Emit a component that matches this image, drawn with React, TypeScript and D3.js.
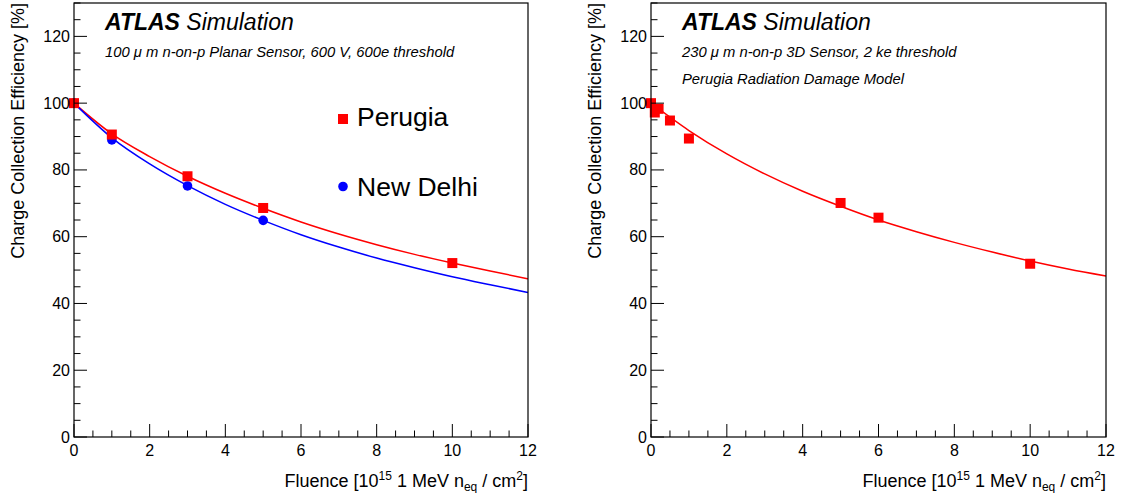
import React from "react";
import * as d3 from "d3";

// ---------- data ----------
const perugiaFluence = [0, 1, 3, 5, 10];
const perugiaEff = [100, 90.6, 78.1, 68.6, 52.1];
const delhiFluence = [0, 1, 3, 5];
const delhiEff = [100, 89.0, 75.2, 64.9];

const fitFluence = [0, 1, 2, 3, 4, 5, 6, 7, 8, 9, 10, 11, 12];
const perugiaFit = [100, 90.8, 84.0, 78.1, 73.0, 68.5, 64.4, 60.8, 57.6, 54.7, 52.1, 49.7, 47.4];
const delhiFit = [100, 89.6, 81.8, 75.3, 69.7, 64.9, 60.6, 56.9, 53.6, 50.7, 48.0, 45.6, 43.3];

const threeDFluence = [0, 0.1, 0.2, 0.5, 1, 5, 6, 10];
const threeDEff = [100, 97.2, 98.3, 94.8, 89.4, 70.1, 65.7, 51.9];
const threeDFit = [100, 91.8, 84.8, 78.8, 73.6, 69.1, 65.0, 61.5, 58.3, 55.4, 52.7, 50.3, 48.2];

const xTicks = [0, 2, 4, 6, 8, 10, 12];
const yTicks = [0, 20, 40, 60, 80, 100, 120];

const leftTitle = "100 \u03bc m n-on-p Planar Sensor, 600 V, 600e threshold";
const rightTitle = "230 \u03bc m n-on-p 3D Sensor, 2 ke threshold";
const rightTitle2 = "Perugia Radiation Damage Model";
const legendNames = ["Perugia", "New Delhi"];

// ---------- styles ----------
const FONT = "'Liberation Sans', Arial, Helvetica, sans-serif";
const RED = "#ff0000";
const BLUE = "#0000ff";

type Series = {
  xs: number[];
  ys: number[];
  color: string;
  marker: "square" | "circle";
  fitX: number[];
  fitY: number[];
};

function Panel(props: {
  x0: number;
  x1: number;
  series: Series[];
  lines: string[];
  legend?: boolean;
  id: string;
}) {
  const { x0, x1, series, lines, legend, id } = props;
  const yTop = 3;
  const yBot = 437;
  const x = d3.scaleLinear().domain([0, 12]).range([x0, x1]);
  const y = d3.scaleLinear().domain([0, 130]).range([yBot, yTop]);
  const xMinor = d3.range(0, 12.001, 0.5);
  const yMinor = d3.range(0, 130.001, 5);
  const lineGen = d3
    .line<[number, number]>()
    .x((d) => x(d[0]))
    .y((d) => y(d[1]))
    .curve(d3.curveMonotoneX);

  return (
    <g>
      <defs>
        <clipPath id={id}>
          <rect x={x0} y={yTop} width={x1 - x0} height={yBot - yTop} />
        </clipPath>
      </defs>
      <g clipPath={`url(#${id})`}>
        {series.map((s, i) => (
          <path
            key={i}
            d={lineGen(s.fitX.map((v, j) => [v, s.fitY[j]] as [number, number])) || ""}
            fill="none"
            stroke={s.color}
            strokeWidth={1.5}
          />
        ))}
      </g>
      {[...series].reverse().map((s, i) =>
        s.xs.map((v, j) =>
          s.marker === "square" ? (
            <rect
              key={`${i}-${j}`}
              x={x(v) - 5}
              y={y(s.ys[j]) - 5}
              width={10}
              height={10}
              fill={s.color}
            />
          ) : (
            <circle key={`${i}-${j}`} cx={x(v)} cy={y(s.ys[j])} r={4.8} fill={s.color} />
          )
        )
      )}
      <rect x={x0} y={yTop} width={x1 - x0} height={yBot - yTop} fill="none" stroke="#000" strokeWidth={1.2} />
      {xMinor.map((t) => {
        const major = Math.abs(t / 2 - Math.round(t / 2)) < 1e-6;
        return (
          <line key={`xm${t}`} x1={x(t)} x2={x(t)} y1={yBot} y2={yBot - (major ? 13 : 6.5)} stroke="#000" strokeWidth={1} />
        );
      })}
      {yMinor.map((t) => {
        const major = t % 20 === 0;
        return (
          <line key={`ym${t}`} x1={x0} x2={x0 + (major ? 13 : 6.5)} y1={y(t)} y2={y(t)} stroke="#000" strokeWidth={1} />
        );
      })}
      {xTicks.map((t) => (
        <text key={`xl${t}`} x={x(t)} y={yBot + 19} textAnchor="middle" fontFamily={FONT} fontSize={16} fill="#000">
          {t}
        </text>
      ))}
      {yTicks.map((t) => (
        <text key={`yl${t}`} x={x0 - 4} y={y(t) + 5.5} textAnchor="end" fontFamily={FONT} fontSize={16} fill="#000">
          {t}
        </text>
      ))}
      <text
        transform={`translate(${x0 - 50},${yTop}) rotate(-90)`}
        textAnchor="end"
        fontFamily={FONT}
        fontSize={18}
        fill="#000"
      >
        Charge Collection Efficiency [%]
      </text>
      <text x={x1} y={487} textAnchor="end" fontFamily={FONT} fontSize={18} fill="#000">
        Fluence [10
        <tspan fontSize={12} dy={-7}>15</tspan>
        <tspan dy={7}> 1 MeV n</tspan>
        <tspan fontSize={12} dy={4}>eq</tspan>
        <tspan dy={-4}> / cm</tspan>
        <tspan fontSize={12} dy={-7}>2</tspan>
        <tspan dy={7}>]</tspan>
      </text>
      <text x={x0 + 31} y={30} fontFamily={FONT} fontSize={23} fontStyle="italic" fill="#000">
        <tspan fontWeight="bold">ATLAS</tspan>
        <tspan> Simulation</tspan>
      </text>
      {lines.map((l, i) => (
        <text key={i} x={x0 + 31} y={57 + i * 27} fontFamily={FONT} fontSize={14.8} fontStyle="italic" fill="#000">
          {l}
        </text>
      ))}
      {legend && (
        <g>
          <rect x={338} y={114} width={10} height={10} fill={RED} />
          <text x={357} y={126} fontFamily={FONT} fontSize={26.5} fill="#000">
            {legendNames[0]}
          </text>
          <circle cx={343} cy={186.5} r={4.8} fill={BLUE} />
          <text x={357} y={196} fontFamily={FONT} fontSize={26.5} fill="#000">
            {legendNames[1]}
          </text>
        </g>
      )}
    </g>
  );
}

export default function App() {
  const leftSeries: Series[] = [
    { xs: perugiaFluence, ys: perugiaEff, color: RED, marker: "square", fitX: fitFluence, fitY: perugiaFit },
    { xs: delhiFluence, ys: delhiEff, color: BLUE, marker: "circle", fitX: fitFluence, fitY: delhiFit },
  ];
  const rightSeries: Series[] = [
    { xs: threeDFluence, ys: threeDEff, color: RED, marker: "square", fitX: fitFluence, fitY: threeDFit },
  ];
  return (
    <svg
      width={1124}
      height={493}
      style={{ position: "absolute", left: 0, top: 0, background: "#fff" }}
    >
      <rect width={1124} height={493} fill="#fff" />
      <Panel id="clipL" x0={74} x1={528} series={leftSeries} lines={[leftTitle]} legend />
      <Panel id="clipR" x0={651} x1={1106} series={rightSeries} lines={[rightTitle, rightTitle2]} />
    </svg>
  );
}
